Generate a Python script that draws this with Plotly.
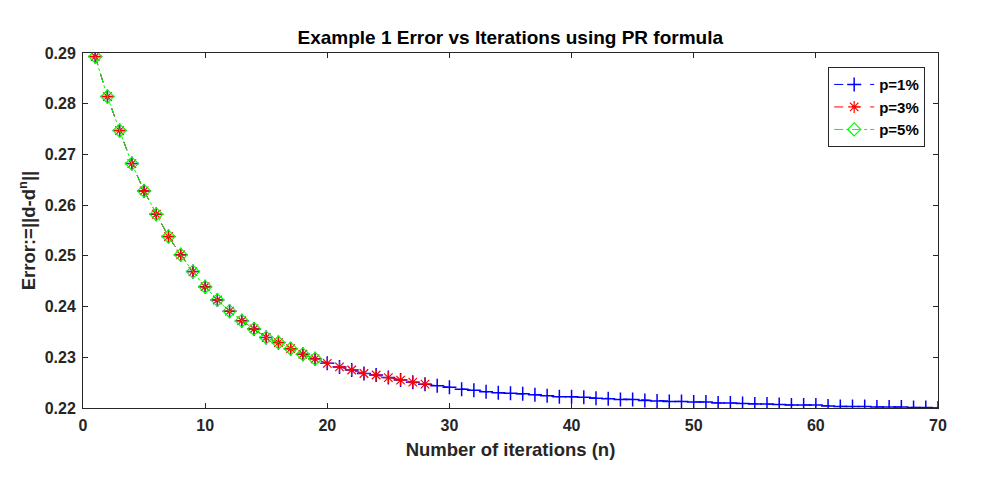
import plotly.graph_objects as go

n_p1 = list(range(1, 71))
err_p1 = [0.2893, 0.2814, 0.2747, 0.2682, 0.2628, 0.2582, 0.2538, 0.2502, 0.2469, 0.2439,
          0.2413, 0.2391, 0.2372, 0.2356, 0.2339, 0.2329, 0.2317, 0.2306, 0.2297, 0.2288,
          0.2281, 0.2275, 0.2268, 0.2265, 0.2260, 0.2255, 0.2251, 0.2247, 0.2244, 0.2241,
          0.2237, 0.2235, 0.2232, 0.2230, 0.2229, 0.2228, 0.2226, 0.2224, 0.2222, 0.2222,
          0.2221, 0.2219, 0.2218, 0.2217, 0.2217, 0.2215, 0.2214, 0.2213, 0.2213, 0.2212,
          0.2212, 0.2210, 0.2210, 0.2209, 0.2208, 0.2208, 0.2207, 0.2206, 0.2206, 0.2206,
          0.2204, 0.2203, 0.2203, 0.2203, 0.2202, 0.2202, 0.2202, 0.2201, 0.2201, 0.2200]

n_p3 = list(range(1, 29))
err_p3 = err_p1[:28]

n_p5 = list(range(1, 20))
err_p5 = err_p1[:19]

x_ticks = [0, 10, 20, 30, 40, 50, 60, 70]
y_ticks = [0.22, 0.23, 0.24, 0.25, 0.26, 0.27, 0.28, 0.29]

FONT = "Liberation Sans"

fig = go.Figure()
fig.add_trace(go.Scatter(x=n_p1, y=err_p1, mode="lines+markers", name="<b>p=1%</b>",
                         line=dict(color="#0000ff", width=1, dash="dash"),
                         marker=dict(symbol="cross-thin-open", size=10,
                                     line=dict(color="#0000ff", width=1.5))))
fig.add_trace(go.Scatter(x=n_p3, y=err_p3, mode="lines+markers", name="<b>p=3%</b>",
                         line=dict(color="#ff0000", width=1, dash="dash"),
                         marker=dict(symbol="asterisk-open", size=10,
                                     line=dict(color="#ff0000", width=1.2))))
fig.add_trace(go.Scatter(x=n_p5, y=err_p5, mode="lines+markers", name="<b>p=5%</b>",
                         line=dict(color="#00ff00", width=1, dash="dashdot"),
                         marker=dict(symbol="diamond-open", size=10,
                                     line=dict(color="#00ff00", width=1.2))))

axis_common = dict(showgrid=False, zeroline=False, showline=True, linecolor="#262626",
                   linewidth=1, mirror="ticks", ticks="inside", ticklen=5,
                   tickcolor="#262626", ticklabelstandoff=3,
                   tickfont=dict(family=FONT, size=16, color="#262626", weight="bold"))

fig.update_layout(
    width=981, height=473,
    paper_bgcolor="white", plot_bgcolor="white",
    margin=dict(l=75, r=51, t=45, b=73),
    title=dict(text="<b>Example 1 Error vs Iterations using PR formula</b>",
               x=0.512, xanchor="center", y=0.9387, yanchor="middle",
               font=dict(family=FONT, size=19, color="black")),
    xaxis=dict(range=[0, 70], tickvals=x_ticks,
               title=dict(text="<b>Number of iterations (n)</b>", standoff=9,
                          font=dict(family=FONT, size=18.5, color="#262626")),
               **axis_common),
    yaxis=dict(range=[0.22, 0.29], tickvals=y_ticks, tickformat=".2f",
               title=dict(text="<b>Error:=||d-d<sup>n</sup>||</b>", standoff=4,
                          font=dict(family=FONT, size=18.5, color="#262626")),
               **axis_common),
    legend=dict(x=0.985, xanchor="right", y=0.96, yanchor="top",
                bordercolor="#262626", borderwidth=1, bgcolor="white",
                font=dict(family=FONT, size=15, color="black"),
                tracegroupgap=0, itemwidth=40),
    showlegend=True,
)

fig.write_html("out.html")
